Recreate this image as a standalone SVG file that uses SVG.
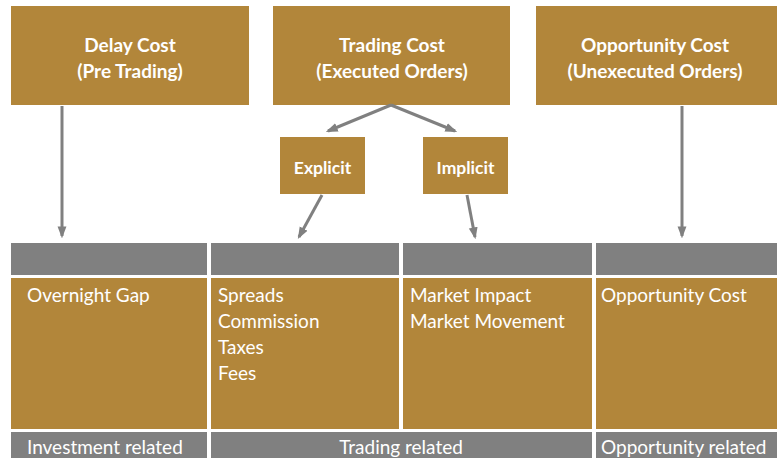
<svg xmlns="http://www.w3.org/2000/svg" width="777" height="458" viewBox="0 0 777 458">
  <defs>
    <style>
      .gold { fill: #B2863A; }
      .grey { fill: #808080; }
      .title { font-family: Lato, "Open Sans", sans-serif; font-weight: bold; font-size: 19px; fill: #ffffff; text-anchor: middle; }
      .sub { font-size: 17.5px; }
      .body { font-family: Lato, "Open Sans", sans-serif; font-size: 19px; fill: #ffffff; }
      .edge { stroke: #808080; stroke-width: 3; fill: none; }
    </style>
    <marker id="arrow" viewBox="0 0 10 10" refX="8" refY="5" markerWidth="4" markerHeight="4" orient="auto" markerUnits="strokeWidth">
      <path d="M0,1.3 L10,5 L0,8.7 z" fill="#808080"/>
    </marker>
  </defs>

  <rect width="777" height="458" fill="#ffffff"/>

  <!-- top level cost categories -->
  <g id="delay-cost">
    <rect class="gold" x="11" y="6" width="238" height="99"/>
    <text class="title" x="130" y="52">Delay Cost</text>
    <text class="title" x="130" y="78">(Pre Trading)</text>
  </g>
  <g id="trading-cost">
    <rect class="gold" x="273" y="6" width="237" height="99"/>
    <text class="title" x="392" y="52">Trading Cost</text>
    <text class="title" x="392" y="78">(Executed Orders)</text>
  </g>
  <g id="opportunity-cost">
    <rect class="gold" x="536" y="6" width="241" height="99"/>
    <text class="title" x="655" y="52">Opportunity Cost</text>
    <text class="title" x="655" y="78">(Unexecuted Orders)</text>
  </g>

  <!-- trading cost split -->
  <g id="explicit">
    <rect class="gold" x="280" y="137" width="85" height="57"/>
    <text class="title sub" x="322.5" y="174">Explicit</text>
  </g>
  <g id="implicit">
    <rect class="gold" x="423" y="137" width="85" height="57"/>
    <text class="title sub" x="465.5" y="174">Implicit</text>
  </g>

  <!-- table: header row, content row, footer row -->
  <g id="table-header">
    <rect class="grey" x="11" y="243" width="196" height="32"/>
    <rect class="grey" x="211" y="243" width="188" height="32"/>
    <rect class="grey" x="403" y="243" width="189" height="32"/>
    <rect class="grey" x="596" y="243" width="181" height="32"/>
  </g>
  <g id="col-investment">
    <rect class="gold" x="11" y="278" width="196" height="151"/>
    <text class="body" x="27" y="302">Overnight Gap</text>
  </g>
  <g id="col-explicit">
    <rect class="gold" x="211" y="278" width="188" height="151"/>
    <text class="body" x="218" y="302">Spreads</text>
    <text class="body" x="218" y="328">Commission</text>
    <text class="body" x="218" y="354">Taxes</text>
    <text class="body" x="218" y="380">Fees</text>
  </g>
  <g id="col-implicit">
    <rect class="gold" x="403" y="278" width="189" height="151"/>
    <text class="body" x="410" y="302">Market Impact</text>
    <text class="body" x="410" y="328">Market Movement</text>
  </g>
  <g id="col-opportunity">
    <rect class="gold" x="596" y="278" width="181" height="151"/>
    <text class="body" x="601" y="302">Opportunity Cost</text>
  </g>
  <g id="table-footer">
    <rect class="grey" x="11" y="432" width="196" height="26"/>
    <text class="body" x="27" y="454">Investment related</text>
    <rect class="grey" x="211" y="432" width="381" height="26"/>
    <text class="body" x="401" y="454" text-anchor="middle">Trading related</text>
    <rect class="grey" x="596" y="432" width="181" height="26"/>
    <text class="body" x="601" y="454">Opportunity related</text>
  </g>

  <!-- connectors -->
  <g id="connectors">
    <line class="edge" x1="62" y1="106" x2="62" y2="236" marker-end="url(#arrow)"/>
    <line class="edge" x1="682" y1="106" x2="682" y2="236" marker-end="url(#arrow)"/>
    <line class="edge" x1="391" y1="105" x2="328" y2="131" marker-end="url(#arrow)"/>
    <line class="edge" x1="391" y1="105" x2="455" y2="131" marker-end="url(#arrow)"/>
    <line class="edge" x1="322" y1="195" x2="299" y2="237" marker-end="url(#arrow)"/>
    <line class="edge" x1="467" y1="195" x2="475" y2="237" marker-end="url(#arrow)"/>
  </g>
</svg>
